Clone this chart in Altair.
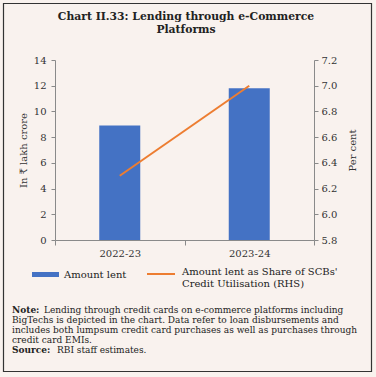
import altair as alt
import pandas as pd

categories = ["2022-23", "2023-24"]
amount_lent = [8.9, 11.8]
share_pct = [6.3, 7.0]

left_ticks = [0, 2, 4, 6, 8, 10, 12, 14]
right_ticks = [5.8, 6.0, 6.2, 6.4, 6.6, 6.8, 7.0, 7.2]

title_lines = ["Chart II.33: Lending through e-Commerce", "Platforms"]
legend_bar = "Amount lent"
legend_line = ["Amount lent as Share of SCBs'", "Credit Utilisation (RHS)"]
note_head = "Note:"
note_first = "Lending through credit cards on e-commerce platforms including"
note_rest = [
    "BigTechs is depicted in the chart. Data refer to loan disbursements and",
    "includes both lumpsum credit card purchases as well as purchases through",
    "credit card EMIs.",
]
source_head = "Source:"
source_text = "RBI staff estimates."

df = pd.DataFrame({"cat": categories, "amount": amount_lent, "share": share_pct})
one = pd.DataFrame({"a": [0]})

SERIF = "DejaVu Serif"
BLUE = "#4472C4"
ORANGE = "#ED7D31"
TXT = "#333333"
AX = "#8a8a8a"

xenc = alt.X(
    "cat:N",
    title=None,
    sort=categories,
    scale=alt.Scale(paddingInner=0, paddingOuter=0),
    axis=alt.Axis(labelAngle=0, tickBand="extent", domainColor=AX, tickColor=AX,
                  tickSize=5, labelPadding=3, labelFont=SERIF, labelFontSize=10,
                  labelColor=TXT),
)

bars = alt.Chart(df).mark_bar(size=41, color=BLUE).encode(
    x=xenc,
    y=alt.Y("amount:Q", scale=alt.Scale(domain=[0, 14], nice=False),
            axis=alt.Axis(values=left_ticks, title="In ₹ lakh crore", grid=False,
                          orient="left", domainColor=AX, tickColor=AX, tickSize=4,
                          labelPadding=5, labelFont=SERIF, labelFontSize=10,
                          labelColor=TXT, titleFont=SERIF, titleFontSize=10,
                          titleFontWeight="normal", titleColor=TXT, titlePadding=5)),
)

line = alt.Chart(df).mark_line(color=ORANGE, strokeWidth=2).encode(
    x=xenc,
    y=alt.Y("share:Q", scale=alt.Scale(domain=[5.8, 7.2], nice=False, zero=False),
            axis=alt.Axis(values=right_ticks, format=".1f", title="Per cent", grid=False,
                          orient="right", domainColor=AX, tickColor=AX, tickSize=4,
                          labelPadding=3, labelFont=SERIF, labelFontSize=10,
                          labelColor=TXT, titleFont=SERIF, titleFontSize=10,
                          titleFontWeight="normal", titleColor=TXT, titlePadding=21,
                          titleAngle=270)),
)

def txt(text, x, y, size=10, weight="normal", align="left", baseline="middle", lh=None):
    kw = dict(text=text, font=SERIF, fontSize=size, fontWeight=weight, color="#222222",
              align=align, baseline=baseline)
    if lh is not None:
        kw["lineHeight"] = lh
    return alt.Chart(one).mark_text(**kw).encode(x=alt.value(x), y=alt.value(y))

# offsets: plot origin is at image (55, 60)
OX, OY = 55, 60
NS = 9

title = txt(title_lines, 186 - OX, 11 - OY, size=10.8, weight="bold", align="center",
            baseline="top", lh=13)

leg_rect = alt.Chart(one).mark_rect(color=BLUE).encode(
    x=alt.value(32 - OX), x2=alt.value(59 - OX), y=alt.value(272 - OY), y2=alt.value(277 - OY))
leg_rule = alt.Chart(one).mark_rule(color=ORANGE, strokeWidth=2).encode(
    x=alt.value(147 - OX), x2=alt.value(175 - OX), y=alt.value(274 - OY))
leg_t1 = txt(legend_bar, 64 - OX, 275 - OY)
leg_t2 = txt(legend_line, 182 - OX, 267 - OY, baseline="top", lh=12)

n1 = txt(note_head, 12 - OX, 310 - OY, size=NS, weight="bold")
n2 = txt(note_first, 44 - OX, 310 - OY, size=NS)
n3 = txt(note_rest, 12 - OX, 315.5 - OY, size=NS, baseline="top", lh=10)
s1 = txt(source_head, 12 - OX, 350 - OY, size=NS, weight="bold")
s2 = txt(source_text, 57 - OX, 350 - OY, size=NS)

border = alt.Chart(one).mark_rect(fill=None, stroke="#333333", strokeWidth=1.2).encode(
    x=alt.value(3.5 - OX), x2=alt.value(371.5 - OX), y=alt.value(3.5 - OY), y2=alt.value(371.5 - OY))

chart = alt.layer(bars, line).resolve_scale(y="independent")
full = alt.layer(chart, title, leg_rect, leg_rule, leg_t1, leg_t2, n1, n2, n3, s1, s2, border).properties(
    width=259, height=180,
    autosize=alt.AutoSizeParams(type="none"),
    padding={"left": OX, "top": OY, "right": 376 - OX - 259, "bottom": 377 - OY - 180},
    background="#f9f2ee",
).configure_view(stroke=None)

full.save("out.html", embed_options={"renderer": "svg", "actions": False})
